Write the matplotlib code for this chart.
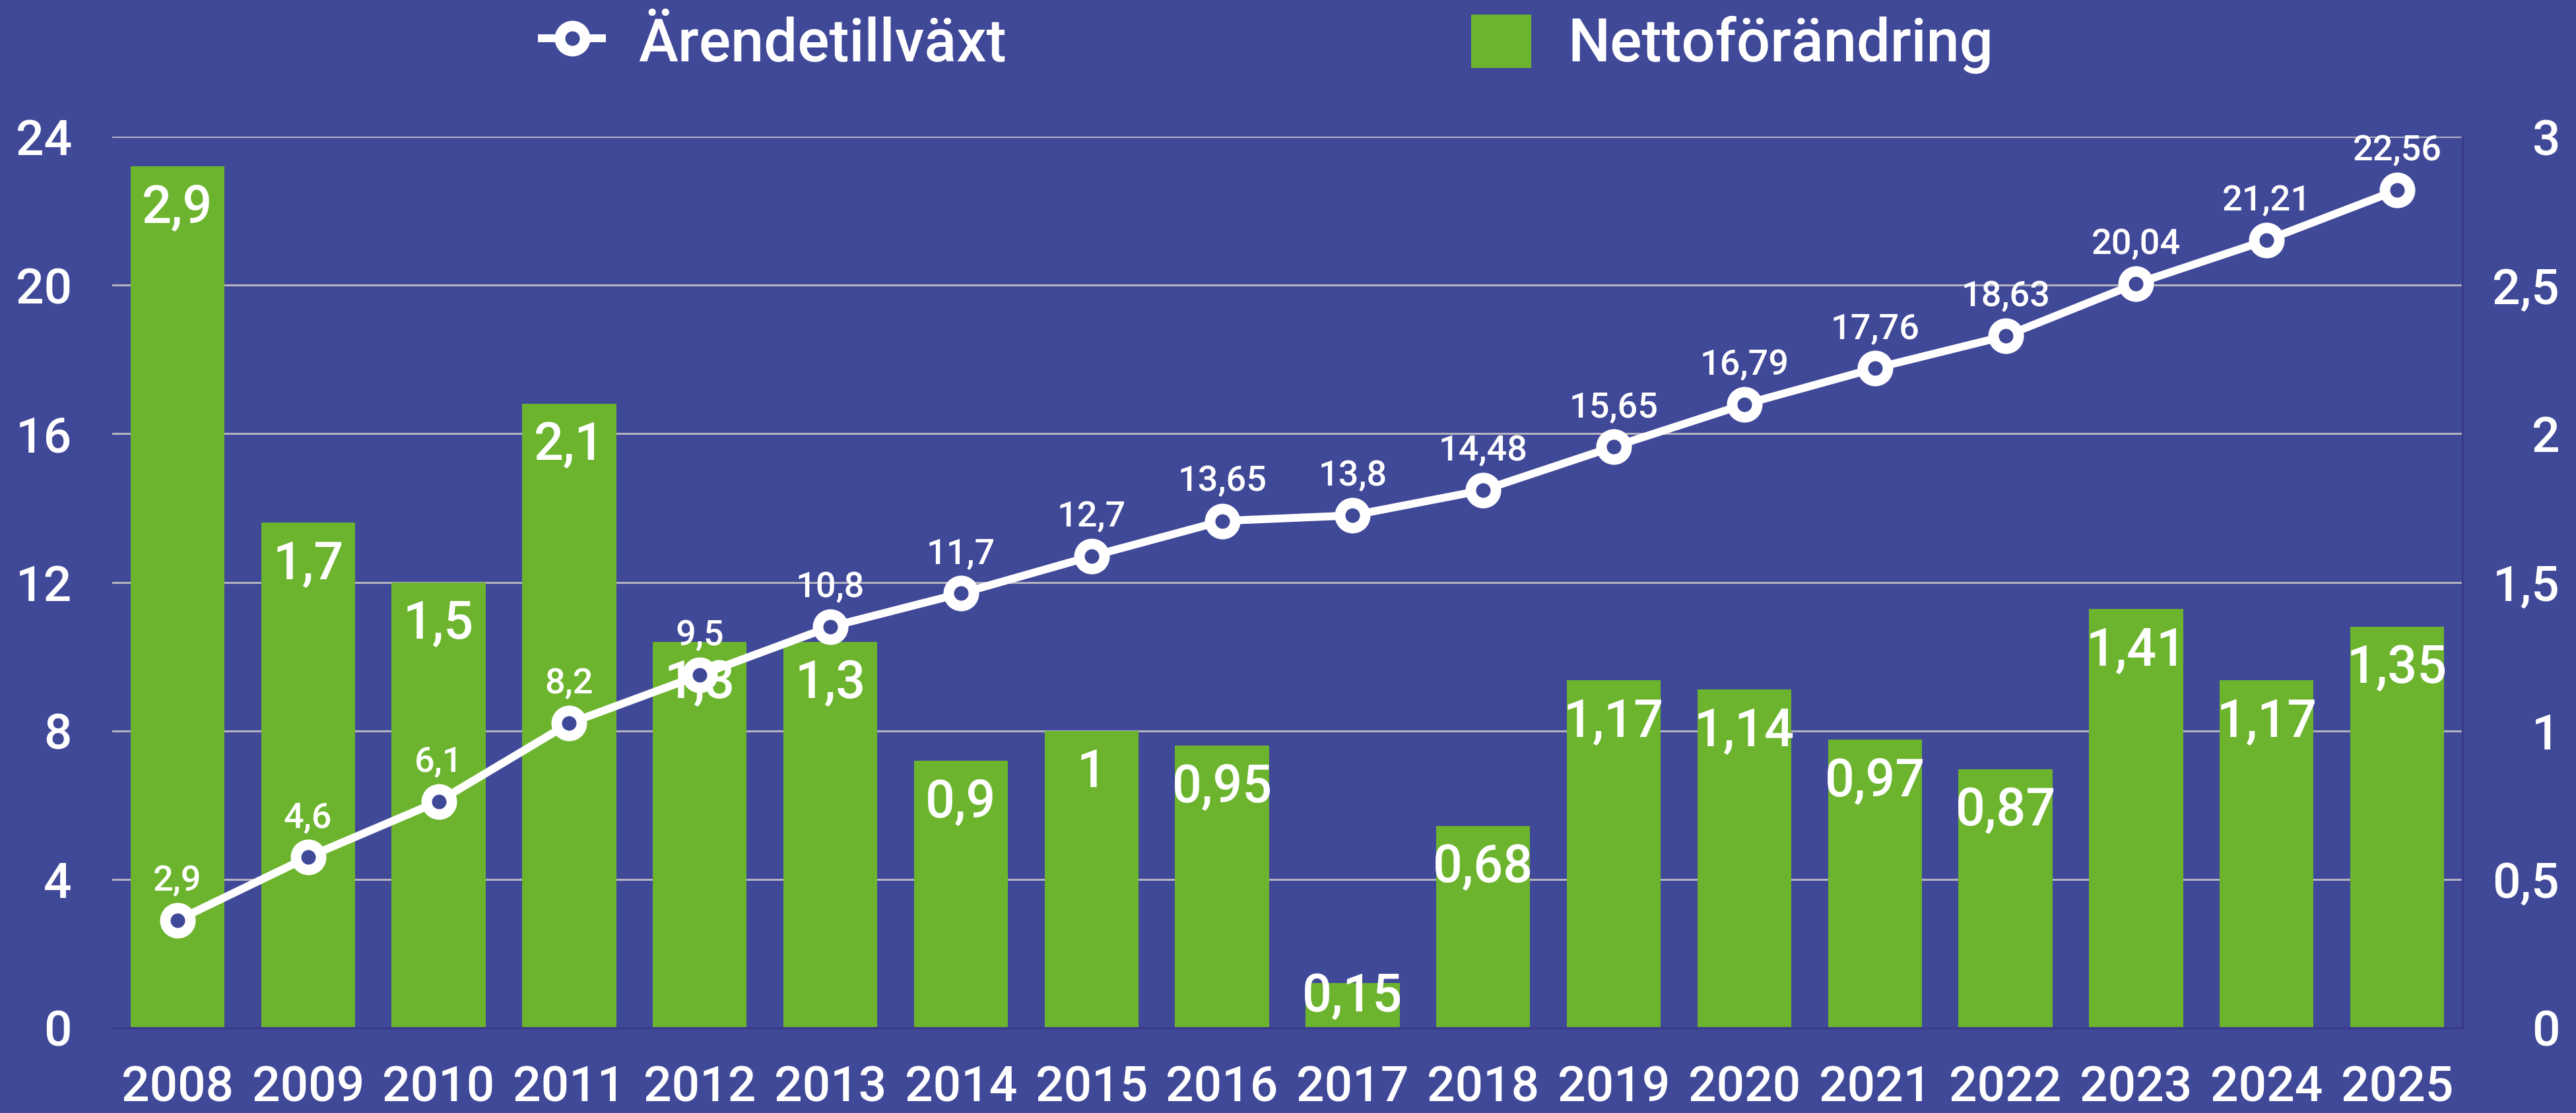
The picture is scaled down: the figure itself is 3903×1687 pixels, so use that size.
import numpy as np
import matplotlib
matplotlib.use("Agg")
import matplotlib.pyplot as plt

years = ["2008", "2009", "2010", "2011", "2012", "2013", "2014", "2015", "2016",
         "2017", "2018", "2019", "2020", "2021", "2022", "2023", "2024", "2025"]
arendetillvaxt = [2.9, 4.6, 6.1, 8.2, 9.5, 10.8, 11.7, 12.7, 13.65, 13.8, 14.48,
                  15.65, 16.79, 17.76, 18.63, 20.04, 21.21, 22.56]
nettoforandring = [2.9, 1.7, 1.5, 2.1, 1.3, 1.3, 0.9, 1.0, 0.95, 0.15, 0.68,
                   1.17, 1.14, 0.97, 0.87, 1.41, 1.17, 1.35]
left_ticks = [0, 4, 8, 12, 16, 20, 24]
right_ticks = [0, 0.5, 1, 1.5, 2, 2.5, 3]

BG = "#404898"
GREEN = "#6CB42E"
GRID = "#B4B4C0"
SPINE = "#3A3A8C"
FONT = ["Roboto", "DejaVu Sans"]
WEIGHT = "medium"


def fmt(v):
    return f"{v:g}".replace(".", ",")


fig = plt.figure(figsize=(39.03, 16.87), dpi=100, facecolor=BG)
ax = fig.add_axes([170 / 3903, 1 - 1558 / 1687, (3731 - 170) / 3903, (1558 - 207) / 1687])
ax.set_facecolor(BG)
x = np.arange(len(years))

# bars on the main axes (right scale), line on a twin (left scale) so it sits on top
ax.bar(x, nettoforandring, width=0.72, color=GREEN, zorder=2, label="Nettoförändring")
ax2 = ax.twinx()

ax.set_ylim(0, 3)
ax.set_xlim(-0.5, len(years) - 0.5)
ax.yaxis.tick_right()
ax.set_yticks(right_ticks)
ax.set_yticklabels([fmt(t) for t in right_ticks])
ax.set_axisbelow(True)
ax.grid(axis="y", color=GRID, linewidth=2.2)
ax.grid(axis="x", visible=False)
ax.set_xticks(x)
ax.set_xticklabels(years)
ax.tick_params(axis="x", length=0, pad=40, labelsize=54, labelcolor="white")
ax.tick_params(axis="y", length=0, pad=106, labelsize=54, labelcolor="white",
               labelleft=False, labelright=True)
for lab in ax.get_yticklabels():
    lab.set_ha("right")
for lab in ax.get_xticklabels() + ax.get_yticklabels():
    lab.set_family(FONT)
    lab.set_weight(WEIGHT)
for s in ["left", "top"]:
    ax.spines[s].set_visible(False)
for s in ["bottom", "right"]:
    ax.spines[s].set_color(SPINE)
    ax.spines[s].set_linewidth(2.5)

px_per_unit = 1351 / 3
for i, v in enumerate(nettoforandring):
    off = min(85, v * px_per_unit - 25) * 0.72
    ax.annotate(fmt(v), (i, v), xytext=(0, -off), textcoords="offset points",
                ha="center", va="baseline", color="white", fontsize=57,
                family=FONT, weight=WEIGHT, zorder=3)

ax2.set_ylim(0, 24)
ax2.yaxis.tick_left()
ax2.set_yticks(left_ticks)
ax2.set_yticklabels([fmt(t) for t in left_ticks])
ax2.tick_params(axis="y", length=0, pad=44, labelsize=54, labelcolor="white",
                labelleft=True, labelright=False)
for lab in ax2.get_yticklabels():
    lab.set_family(FONT)
    lab.set_weight(WEIGHT)
for s in ax2.spines.values():
    s.set_visible(False)
ax2.plot(x, arendetillvaxt, color="white", linewidth=8.6, marker="o",
         markersize=27.4, markerfacecolor=BG, markeredgecolor="white",
         markeredgewidth=11.5, zorder=4, label="Ärendetillväxt")
for i, v in enumerate(arendetillvaxt):
    ax2.annotate(fmt(v), (i, v), xytext=(0, 32.4), textcoords="offset points",
                 ha="center", va="baseline", color="white", fontsize=39,
                 family=FONT, weight=WEIGHT, zorder=5)

h1, l1 = ax2.get_legend_handles_labels()
h2, l2 = ax.get_legend_handles_labels()
leg = fig.legend(h1 + h2, l1 + l2, ncol=2, loc="center left",
                 bbox_to_anchor=(821 / 3903, 1 - 67 / 1687), frameon=False,
                 borderpad=0, borderaxespad=0, handlelength=1.01, handleheight=1.01,
                 handletextpad=0.61, columnspacing=7.8,
                 prop={"family": FONT, "size": 65, "weight": WEIGHT})
for t in leg.get_texts():
    t.set_color("white")

fig.savefig("out.png", dpi=100, facecolor=BG)
